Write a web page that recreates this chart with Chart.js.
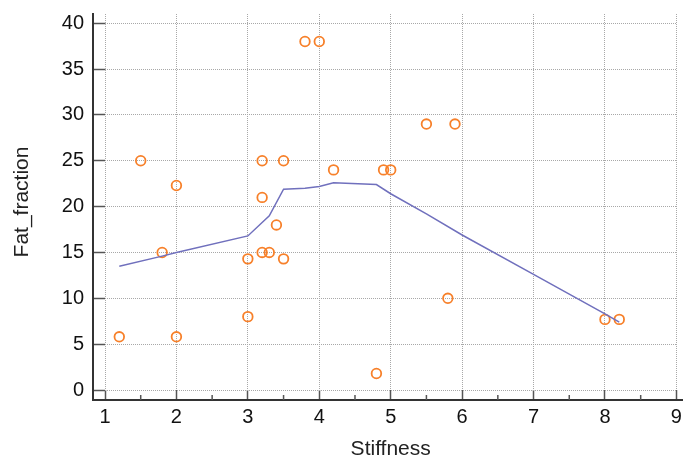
<!DOCTYPE html>
<html>
<head>
<meta charset="utf-8">
<script src="https://cdn.jsdelivr.net/npm/chart.js@4/dist/chart.umd.min.js"></script>
<style>
  html, body { margin: 0; padding: 0; background: #fff; }
  #wrap { width: 683px; height: 456px; }
</style>
</head>
<body>
<div id="wrap"><canvas id="grafico"></canvas></div>
<script>
// pontos observados
const stiffness   = [1.2, 1.5, 1.8, 2.0, 2.0, 3.0, 3.0, 3.2, 3.2, 3.2, 3.3, 3.4, 3.5, 3.5, 3.8, 4.0, 4.2, 4.8, 4.9, 5.0, 5.5, 5.8, 5.9, 8.0, 8.2];
const fatFraction = [5.8, 25, 15, 22.3, 5.8, 14.3, 8, 25, 21, 15, 15, 18, 25, 14.3, 38, 38, 24, 1.8, 24, 24, 29, 10, 29, 7.7, 7.7];

// curva ajustada
const curvaX = [1.2, 1.8, 2.0, 3.0, 3.3, 3.5, 3.8, 4.0, 4.2, 4.8, 5.0, 5.5, 6.0, 7.0, 8.0, 8.2];
const curvaY = [13.5, 14.6, 15.0, 16.8, 19.0, 21.9, 22.0, 22.2, 22.6, 22.4, 21.4, 19.2, 16.9, 12.6, 8.3, 7.4];

// rotulos dos eixos
const xTicks = [1, 2, 3, 4, 5, 6, 7, 8, 9];
const yTicks = [0, 5, 10, 15, 20, 25, 30, 35, 40];

const fonte = "'Liberation Sans', Arial, sans-serif";

const pontos = stiffness.map((x, i) => ({ x: x, y: fatFraction[i] }));
const curva = curvaX.map((x, i) => ({ x: x, y: curvaY[i] }));

// sem folga extra para os rotulos
function semPadding(s) {
  s.paddingTop = 0;
  s.paddingBottom = 0;
  s.paddingLeft = 0;
  s.paddingRight = 0;
}

// linhas dos eixos deslocadas + ticks menores
const eixos = {
  id: 'eixos',
  afterDraw(chart) {
    const ctx = chart.ctx;
    const area = chart.chartArea;
    const xs = chart.scales.x;
    const esq = area.left - 12;
    const base = area.bottom + 10;
    ctx.save();
    ctx.strokeStyle = '#333';
    ctx.lineWidth = 2;
    ctx.beginPath();
    ctx.moveTo(esq, area.top - 1);
    ctx.lineTo(esq, base);
    ctx.lineTo(chart.width, base);
    ctx.stroke();
    ctx.lineWidth = 1.5;
    ctx.strokeStyle = '#555';
    ctx.beginPath();
    for (let i = 0; i < xTicks.length - 1; i++) {
      const px = xs.getPixelForValue(xTicks[i] + 0.5);
      ctx.moveTo(px, base);
      ctx.lineTo(px, base - 5);
    }
    ctx.stroke();
    ctx.restore();
  }
};

new Chart(document.getElementById('grafico'), {
  type: 'scatter',
  data: {
    datasets: [
      {
        label: 'Fat_fraction',
        data: pontos,
        showLine: false,
        pointStyle: 'circle',
        pointRadius: 4.8,
        pointBorderWidth: 1.8,
        pointBorderColor: '#f7802a',
        pointBackgroundColor: 'rgba(255,255,255,0)',
        order: 1
      },
      {
        label: 'ajuste',
        data: curva,
        showLine: true,
        borderColor: '#7070bd',
        borderWidth: 1.5,
        pointRadius: 0,
        tension: 0,
        order: 0
      }
    ]
  },
  options: {
    responsive: true,
    maintainAspectRatio: false,
    animation: false,
    layout: { padding: { top: 14, right: 4, left: 0, bottom: 0 } },
    plugins: {
      legend: { display: false },
      tooltip: { enabled: false }
    },
    scales: {
      x: {
        type: 'linear',
        min: 1,
        max: 9,
        afterBuildTicks: s => { s.ticks = xTicks.map(v => ({ value: v })); },
        afterFit: s => { s.height = 66; semPadding(s); },
        ticks: { color: '#111', font: { family: fonte, size: 20 }, padding: 5, maxRotation: 0 },
        grid: { color: '#a8a8a8', lineWidth: 1, tickLength: 10, tickColor: '#555', tickWidth: 1.5 },
        border: { display: false, dash: [1, 1] },
        title: { display: true, text: 'Stiffness', color: '#222', font: { family: fonte, size: 21, lineHeight: 1 }, padding: { top: 0, bottom: -4 } }
      },
      y: {
        type: 'linear',
        min: 0,
        max: 41,
        afterBuildTicks: s => { s.ticks = yTicks.map(v => ({ value: v })); },
        afterFit: s => { s.width = 105; semPadding(s); },
        ticks: { color: '#111', font: { family: fonte, size: 20 }, padding: 9 },
        grid: { color: '#a8a8a8', lineWidth: 1, tickLength: 12, tickColor: '#555', tickWidth: 1.5 },
        border: { display: false, dash: [1, 1] },
        title: { display: true, text: 'Fat_fraction', color: '#222', font: { family: fonte, size: 21, lineHeight: 1 }, padding: { top: 12, bottom: 0 } }
      }
    }
  },
  plugins: [eixos]
});
</script>
</body>
</html>
